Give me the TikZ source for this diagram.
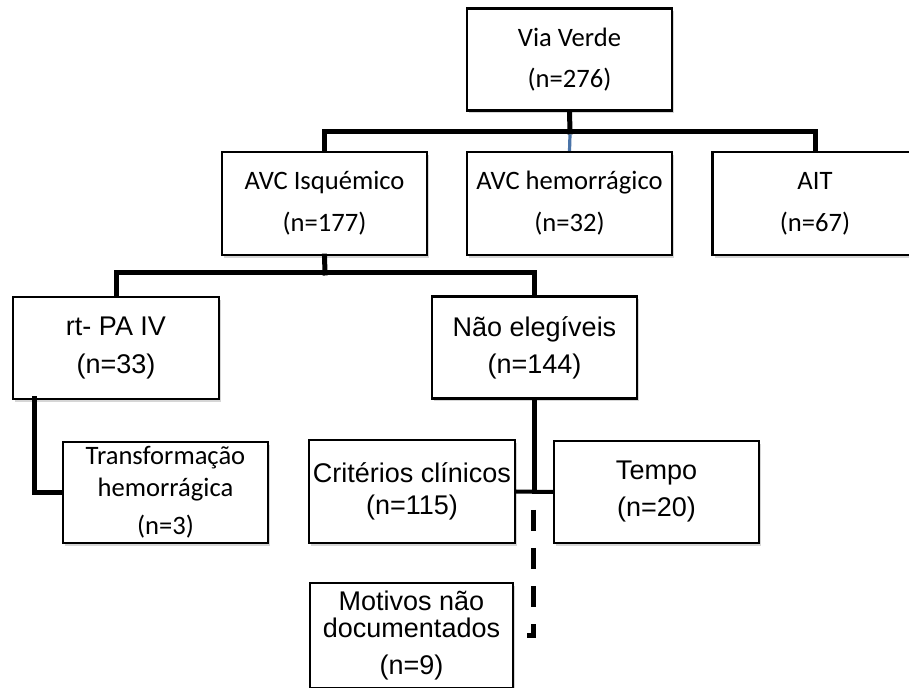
\documentclass[tikz,border=0pt]{standalone}
\usepackage{fontspec}
\setmainfont{Carlito}
\newfontfamily\arialf{Liberation Sans}
\usetikzlibrary{shadows,calc}
\definecolor{offblue}{RGB}{74,116,168}
\begin{document}
\begin{tikzpicture}[x=0.5pt,y=-0.5pt,
  box/.style={draw=black, line width=1.1pt, fill=white, rectangle, inner sep=0pt,
    minimum width=102.5pt, minimum height=51pt, align=center,
    drop shadow={shadow xshift=1.2pt, shadow yshift=-1.5pt, fill=black!35, opacity=0.45}},
  cal/.style={font=\fontsize{13.3pt}{16pt}\selectfont},
  ari/.style={font=\arialf\fontsize{13.5pt}{16pt}\selectfont},
  conn/.style={line width=2.5pt, line cap=rect},
  thinconn/.style={line width=2pt},
  dashconn/.style={line width=2.5pt, dash pattern=on 10.5pt off 8.5pt}]
\useasboundingbox[fill=white] (0,0) rectangle (909,688);

% level 1
\node[box,cal] (top) at (569.5,59.5) {Via Verde\\[4.5pt](n=276)};
% level 2
\node[box,cal,minimum height=51.5pt] (isq) at (324.5,203.5) {AVC Isquémico\\[5pt](n=177)};
\node[box,cal,minimum height=51.5pt] (hem) at (569.5,203.5) {AVC hemorrágico\\[5pt](n=32)};
\node[box,cal,minimum height=51.5pt] (ait) at (815,203.5) {AIT\\[5pt](n=67)};
% level 3
\node[box,ari,minimum width=103pt] (rt) at (116,348) {rt- PA IV\\[3pt](n=33)};
\node[box,ari] (nao) at (534.5,347.5) {Não elegíveis\\[2.5pt](n=144)};
% level 4
\node[box,cal,minimum height=50.5pt] (trans) at (165.5,492.5) {Transformação\\hemorrágica\\[3pt](n=3)};
\node[box,ari,minimum width=103pt,minimum height=51.5pt] (crit) at (412,491.5) {Critérios clínicos\\(n=115)};
\node[box,ari] (tempo) at (656.5,492) {Tempo\\[2.5pt](n=20)};
\node[box,ari,minimum width=101.5pt,minimum height=52.5pt] (mot) at (411.5,635.5) {Motivos não\\[-2.5pt]documentados\\[2.5pt](n=9)};

% junctions
\coordinate (j1) at (570,132);
\coordinate (j2) at (325,273);
\coordinate (d1) at (533,510);
\coordinate (d2) at (533,635);
\coordinate (d3) at (527,635);
\coordinate (r1) at (34,399);

% connectors level 1 -> 2
\draw[conn] (top.south) -- (j1);
\draw[conn] (isq.north) |- (j1) -| (ait.north);
\draw[line width=1.6pt, offblue] ([yshift=-1.2pt]j1) -- (hem.north);
% level 2 -> 3
\draw[conn] (isq.south) -- (j2);
\draw[conn] (rt.north) |- (j2) -| (nao.north);
% rt-PA -> Transformacao
\draw[conn] (r1) |- (trans.west);
% Nao elegiveis -> criterios / tempo
\draw[conn] (nao.south) -- (nao.south |- crit.east);
\draw[thinconn] (crit.east) -- (tempo.west);
% dashed to motivos
\draw[dashconn] (d1) -- (d2) -- (d3);
\end{tikzpicture}
\end{document}
